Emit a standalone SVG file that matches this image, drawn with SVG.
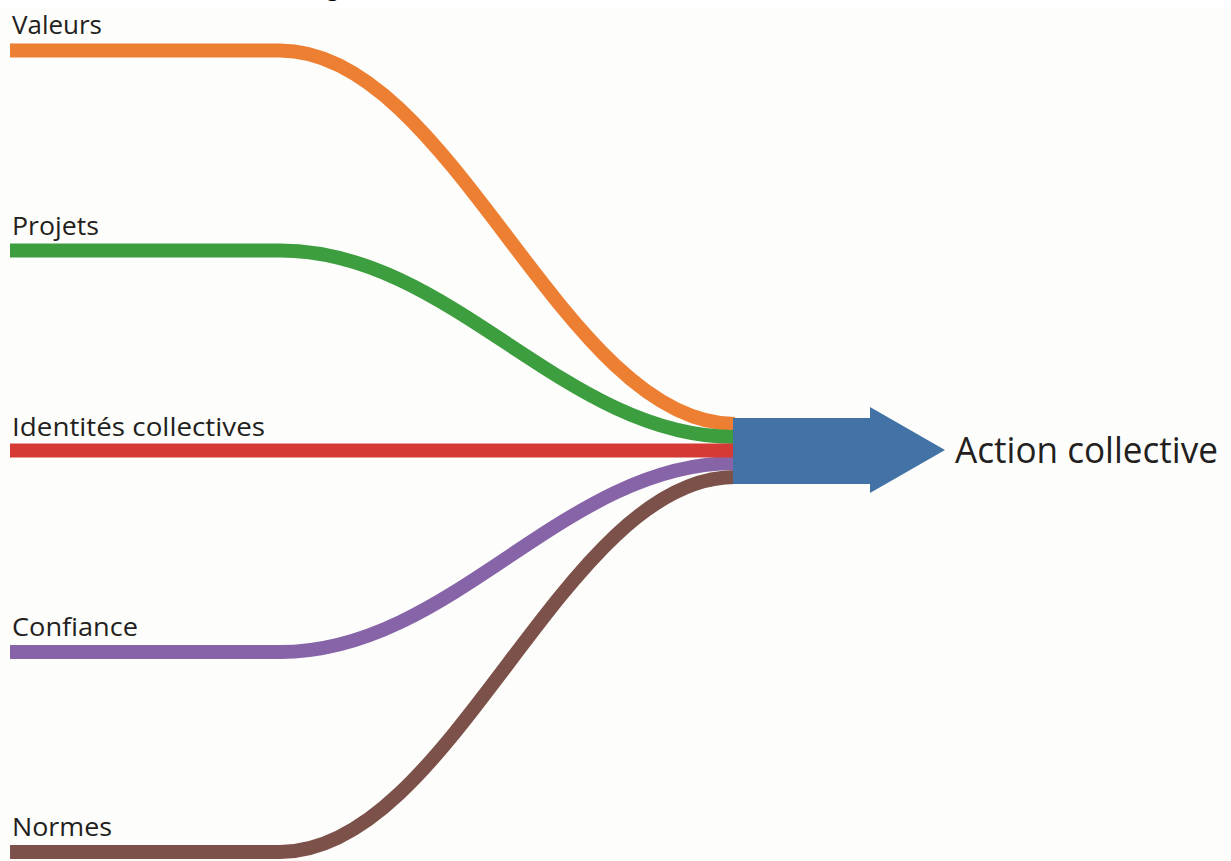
<svg xmlns="http://www.w3.org/2000/svg" width="1231" height="861" viewBox="0 0 1231 861">
<style>
.lbl{font-family:"Open Sans","Liberation Sans",sans-serif;font-size:26px;fill:#231f20}
.band{fill:none;stroke-width:14;stroke-linecap:butt}
</style>
<rect x="0" y="0" width="1231" height="861" fill="#fdfdfb"/>
<rect x="0" y="0" width="1231" height="9" fill="#ffffff"/>
<text x="326" y="-4" font-family="Liberation Serif, serif" font-size="26" fill="#000">g</text>
<g id="connectors">
<path class="band" stroke="#ed7f33" d="M10,50.5 H280 C452,50.5 563,424 735,424"/>
<path class="band" stroke="#3d9e40" d="M10,250.5 H280 C452,250.5 563,437 735,437"/>
<path class="band" stroke="#8764a8" d="M10,652 H280 C452,652 563,463 735,463"/>
<path class="band" stroke="#7b5149" d="M10,852 H280 C452,852 563,477 735,477"/>
<path class="band" stroke="#d53a35" d="M10,450.5 H735"/>
</g>
<g id="node-valeurs"><text class="lbl" x="12" y="34" textLength="90" lengthAdjust="spacingAndGlyphs">Valeurs</text></g>
<g id="node-projets"><text class="lbl" x="12" y="235" textLength="87" lengthAdjust="spacingAndGlyphs">Projets</text></g>
<g id="node-identites"><text class="lbl" x="12" y="436" textLength="253" lengthAdjust="spacingAndGlyphs">Identités collectives</text></g>
<g id="node-confiance"><text class="lbl" x="12" y="636" textLength="126" lengthAdjust="spacingAndGlyphs">Confiance</text></g>
<g id="node-normes"><text class="lbl" x="12" y="836" textLength="100" lengthAdjust="spacingAndGlyphs">Normes</text></g>
<g id="node-action">
<path d="M733,418 H870 V407 L945,450 L870,493 V484 H733 Z" fill="#4373a6"/>
<text x="955" y="463" font-family="'Open Sans','Liberation Sans',sans-serif" font-size="37" fill="#231f20" textLength="263" lengthAdjust="spacingAndGlyphs">Action collective</text>
</g>
</svg>
